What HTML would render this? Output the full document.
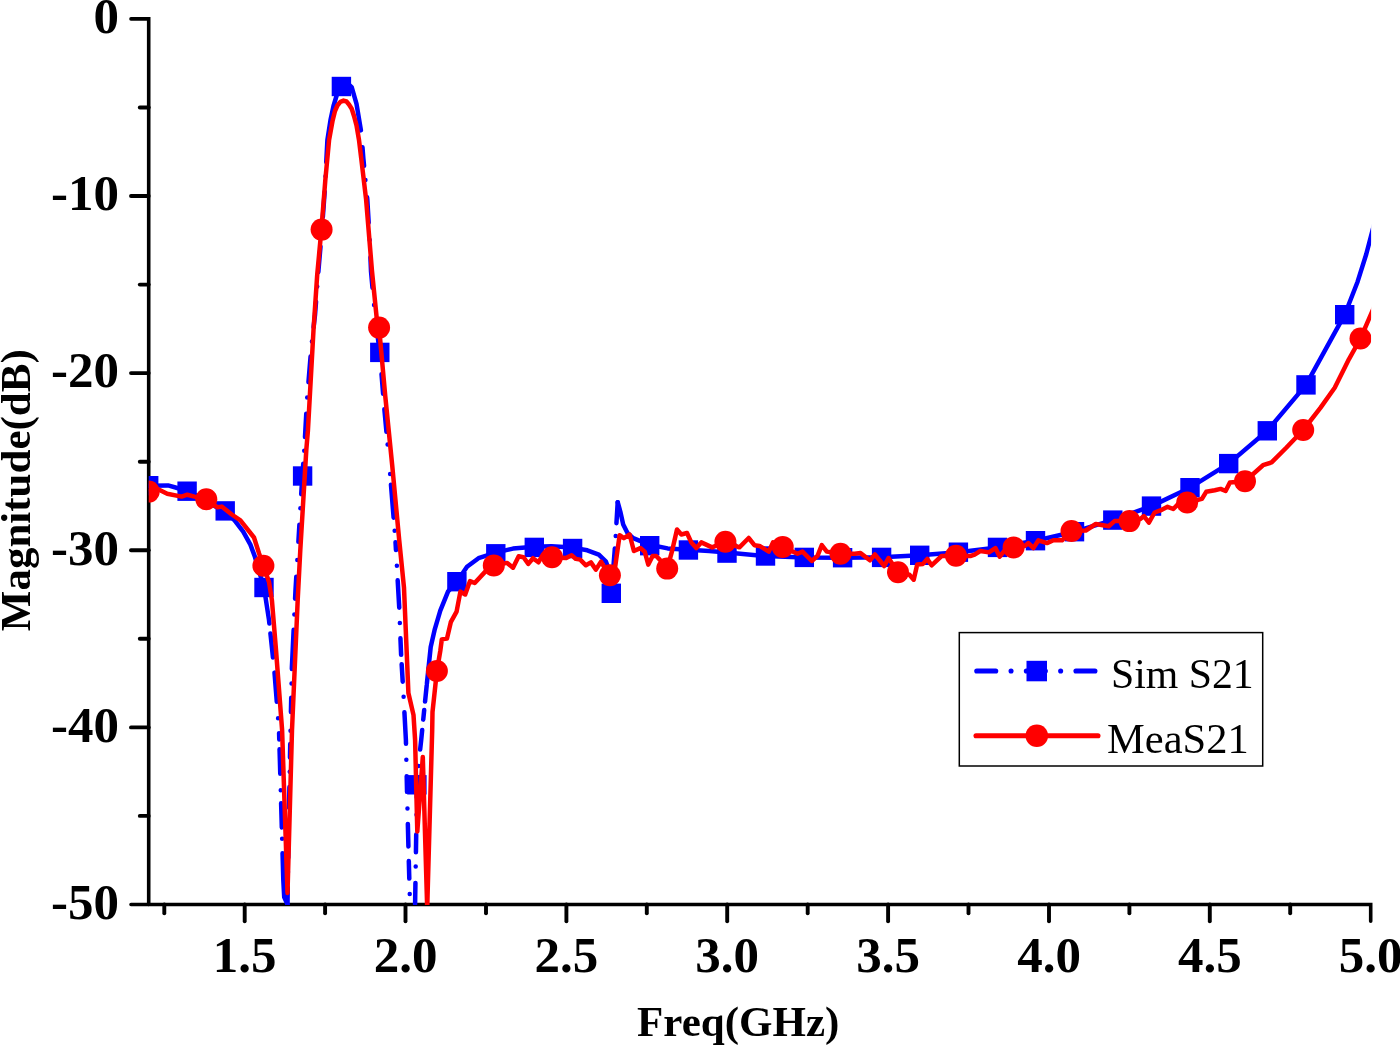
<!DOCTYPE html>
<html><head><meta charset="utf-8"><title>S21</title>
<style>html,body{margin:0;padding:0;background:#fff}svg{display:block}text{font-family:"Liberation Serif","Times New Roman",serif;fill:#000}.b{font-weight:bold}</style></head><body>
<svg width="1400" height="1046" viewBox="0 0 1400 1046">
<rect width="1400" height="1046" fill="#fff"/>
<defs><clipPath id="cp"><rect x="148.7" y="0" width="1222.4" height="905.0"/></clipPath></defs>
<g stroke="#000" stroke-width="3.6" fill="none" stroke-linecap="butt">
<path stroke-linecap="round" stroke-linejoin="miter" d="M131 18.9 H148.7 V904.5"/>
<path stroke-linecap="round" stroke-linejoin="miter" d="M131 904.5 H1370.7 V921.2"/>
<path stroke-width="3.9" stroke-linecap="round" d="M131 196.0 H148.7"/>
<path stroke-width="3.9" stroke-linecap="round" d="M131 373.1 H148.7"/>
<path stroke-width="3.9" stroke-linecap="round" d="M131 550.3 H148.7"/>
<path stroke-width="3.9" stroke-linecap="round" d="M131 727.4 H148.7"/>
<path stroke-width="3.9" stroke-linecap="round" d="M139.8 107.5 H148.7"/>
<path stroke-width="3.9" stroke-linecap="round" d="M139.8 284.6 H148.7"/>
<path stroke-width="3.9" stroke-linecap="round" d="M139.8 461.7 H148.7"/>
<path stroke-width="3.9" stroke-linecap="round" d="M139.8 638.8 H148.7"/>
<path stroke-width="3.9" stroke-linecap="round" d="M139.8 815.9 H148.7"/>
<path stroke-width="3.9" stroke-linecap="round" d="M244.7 904.5 V921.2"/>
<path stroke-width="3.9" stroke-linecap="round" d="M405.5 904.5 V921.2"/>
<path stroke-width="3.9" stroke-linecap="round" d="M566.4 904.5 V921.2"/>
<path stroke-width="3.9" stroke-linecap="round" d="M727.2 904.5 V921.2"/>
<path stroke-width="3.9" stroke-linecap="round" d="M888.1 904.5 V921.2"/>
<path stroke-width="3.9" stroke-linecap="round" d="M1049.0 904.5 V921.2"/>
<path stroke-width="3.9" stroke-linecap="round" d="M1209.8 904.5 V921.2"/>
<path stroke-width="3.9" stroke-linecap="round" d="M164.3 904.5 V913.2"/>
<path stroke-width="3.9" stroke-linecap="round" d="M325.1 904.5 V913.2"/>
<path stroke-width="3.9" stroke-linecap="round" d="M486.0 904.5 V913.2"/>
<path stroke-width="3.9" stroke-linecap="round" d="M646.8 904.5 V913.2"/>
<path stroke-width="3.9" stroke-linecap="round" d="M807.7 904.5 V913.2"/>
<path stroke-width="3.9" stroke-linecap="round" d="M968.5 904.5 V913.2"/>
<path stroke-width="3.9" stroke-linecap="round" d="M1129.4 904.5 V913.2"/>
<path stroke-width="3.9" stroke-linecap="round" d="M1290.2 904.5 V913.2"/>
</g>
<text class="b" x="119" y="33.2" font-size="51" text-anchor="end">0</text>
<text class="b" x="119" y="210.3" font-size="51" text-anchor="end">-10</text>
<text class="b" x="119" y="387.4" font-size="51" text-anchor="end">-20</text>
<text class="b" x="119" y="564.6" font-size="51" text-anchor="end">-30</text>
<text class="b" x="119" y="741.7" font-size="51" text-anchor="end">-40</text>
<text class="b" x="119" y="918.8" font-size="51" text-anchor="end">-50</text>
<text class="b" x="244.7" y="972.3" font-size="51" text-anchor="middle">1.5</text>
<text class="b" x="405.5" y="972.3" font-size="51" text-anchor="middle">2.0</text>
<text class="b" x="566.4" y="972.3" font-size="51" text-anchor="middle">2.5</text>
<text class="b" x="727.2" y="972.3" font-size="51" text-anchor="middle">3.0</text>
<text class="b" x="888.1" y="972.3" font-size="51" text-anchor="middle">3.5</text>
<text class="b" x="1049.0" y="972.3" font-size="51" text-anchor="middle">4.0</text>
<text class="b" x="1209.8" y="972.3" font-size="51" text-anchor="middle">4.5</text>
<text class="b" x="1370.7" y="972.3" font-size="51" text-anchor="middle">5.0</text>
<text class="b" x="738.2" y="1036" font-size="43" text-anchor="middle">Freq(GHz)</text>
<text class="b" transform="translate(29.9 490.2) rotate(-90)" font-size="43" text-anchor="middle">Magnitude(dB)</text>
<g clip-path="url(#cp)">
<path d="M148.7 485.7 L168.0 485.4 L177.3 488.0 L187.3 491.4 L197.0 495.9 L215.6 506.6 L226.0 511.6 L234.6 520.3 L243.2 531.7 L250.4 544.6 L254.7 556.1 L259.0 571.0 L264.0 587.5" fill="none" stroke="#0000ff" stroke-width="4.5" stroke-linecap="round" stroke-linejoin="round"/>
<path d="M264.0 587.5 L269.0 620.0 L274.3 670.0 L279.0 730.0 L281.6 820.0 L283.3 880.0 L284.2 897.0 L287.5 904.5" fill="none" stroke="#0000ff" stroke-width="4.5" stroke-linecap="round" stroke-linejoin="round" stroke-dasharray="36.5 10 24 15.3 29.2 16.5 0 15 6.4 9.8 24.3 16.5 0 13.2 24.2 11.2 0 14.6 60 100" stroke-dashoffset="0"/>
<path d="M287.5 904.0 L288.8 820.0 L290.3 740.0 L291.9 667.0 L295.5 590.0 L298.5 540.0 L302.3 476.0 L304.3 450.0 L307.0 400.0 L311.5 345.0 L315.0 315.0 L318.5 270.0 L322.0 229.0 L324.8 190.0 L327.4 140.0 L330.5 120.0 L333.5 106.0 L336.5 96.0 L339.0 89.0 L341.4 85.0" fill="none" stroke="#0000ff" stroke-width="4.5" stroke-linecap="round" stroke-linejoin="round" stroke-dasharray="16.8 15.3 0.0 14.3 20.5 15.3 0.0 14.3 20.5 15.3 0.0 14.3 13.5 13.3 0.0 18.6 14.2 14.3 0.0 14.6 39.2 15.3 0.0 15.8 22.0 16.9 0.0 18.1 17.1 16.5 0.0 14.1 30.6 12.9 0.0 13.7 23.5 16.3 0.0 15.3 25.6 15.3 0.0 14.3 25.6 15.3 0.0 14.3 25.6 15.3 0.0 14.3 25.6 15.3 0.0 14.3 77.6 1000.0" stroke-dashoffset="0"/>
<path d="M341.4 84.0 L347.0 83.0 L351.7 87.2 L356.5 103.9 L361.3 132.6 L363.4 158.9 L367.3 199.5 L369.7 240.0 L371.0 271.2 L375.3 319.0 L379.8 352.4 L384.0 405.0 L389.0 460.0 L395.4 540.0 L399.2 607.0 L401.1 654.7 L403.6 696.8 L405.9 740.0 L407.0 790.0 L408.5 850.0 L410.0 904.0" fill="none" stroke="#0000ff" stroke-width="4.5" stroke-linecap="round" stroke-linejoin="round" stroke-dasharray="56.2 16.9 18.6 14.3 0.0 17.3 25.6 17.3 0.0 17.3 30.6 17.3 0.0 17.3 33.8 18.5 19.6 15.5 22.6 12.9 0.0 29.5 0.0 10.8 33.1 13.0 0.0 11.6 7.9 15.7 0.0 14.5 27.5 15.3 0.0 15.3 16.5 9.5 17.5 15.1 0.0 15.5 31.5 16.1 0.0 16.5 15.5 16.7 0.0 15.4 22.6 14.5 17.6 15.4 0.0 1000.0" stroke-dashoffset="0"/>
<path d="M415.1 904.0 L417.0 784.8 L419.0 760.0 L421.2 740.0 L424.0 712.0 L426.9 683.4" fill="none" stroke="#0000ff" stroke-width="4.5" stroke-linecap="round" stroke-linejoin="round" stroke-dasharray="21.1 16.3 0.0 14.4 17.6 19.8 0.0 17.3 20.5 11.0 0.0 16.6 19.6 10.5 9.6 8.5 16.2 1000.0" stroke-dashoffset="0"/>
<path d="M426.9 683.4 L430.7 647.0 L434.6 629.9 L440.3 610.7 L448.0 591.6 L456.9 581.7 L467.0 566.8 L478.5 558.2 L495.8 552.6 L513.0 548.6 L534.3 546.7 L551.5 546.2 L572.6 547.6 L587.3 550.3 L598.8 554.6 L606.0 561.7 L609.6 571.8 L611.3 593.3" fill="none" stroke="#0000ff" stroke-width="4.5" stroke-linecap="round" stroke-linejoin="round"/>
<path d="M611.3 593.3 L614.6 551.7 L615.7 535.9 L617.7 502.2" fill="none" stroke="#0000ff" stroke-width="4.5" stroke-linecap="round" stroke-linejoin="round" stroke-dasharray="45 12.5 0 12.8 30 100" stroke-dashoffset="0"/>
<path d="M617.7 502.2 L620.3 511.5 L623.2 524.4 L627.5 533.0 L633.2 538.1 L641.8 541.6 L649.7 544.7 L667.6 548.4 L688.4 549.7 L709.2 551.0 L727.0 552.6 L765.5 556.1 L804.3 557.6 L842.6 557.7 L881.6 557.2 L919.7 555.2 L958.4 552.2 L997.5 547.4 L1035.5 540.7 L1074.5 531.7 L1112.8 520.1 L1151.5 506.1 L1190.0 487.7 L1228.7 463.6 L1267.3 430.8 L1306.0 384.9 L1344.7 314.7 L1357.6 281.7 L1366.3 254.0 L1375.0 221.0" fill="none" stroke="#0000ff" stroke-width="4.5" stroke-linecap="round" stroke-linejoin="round"/>
<rect x="139.0" y="476.0" width="19.4" height="19.4" fill="#0000ff"/>
<rect x="177.4" y="481.5" width="19.4" height="19.4" fill="#0000ff"/>
<rect x="215.5" y="501.2" width="19.4" height="19.4" fill="#0000ff"/>
<rect x="254.3" y="577.8" width="19.4" height="19.4" fill="#0000ff"/>
<rect x="292.9" y="466.3" width="19.4" height="19.4" fill="#0000ff"/>
<rect x="331.7" y="76.8" width="19.4" height="19.4" fill="#0000ff"/>
<rect x="370.1" y="342.7" width="19.4" height="19.4" fill="#0000ff"/>
<rect x="407.2" y="775.1" width="19.4" height="19.4" fill="#0000ff"/>
<rect x="447.2" y="572.0" width="19.4" height="19.4" fill="#0000ff"/>
<rect x="486.1" y="544.1" width="19.4" height="19.4" fill="#0000ff"/>
<rect x="524.6" y="537.7" width="19.4" height="19.4" fill="#0000ff"/>
<rect x="562.9" y="538.8" width="19.4" height="19.4" fill="#0000ff"/>
<rect x="601.6" y="583.6" width="19.4" height="19.4" fill="#0000ff"/>
<rect x="640.0" y="536.0" width="19.4" height="19.4" fill="#0000ff"/>
<rect x="678.7" y="540.3" width="19.4" height="19.4" fill="#0000ff"/>
<rect x="717.3" y="543.4" width="19.4" height="19.4" fill="#0000ff"/>
<rect x="755.8" y="546.3" width="19.4" height="19.4" fill="#0000ff"/>
<rect x="794.6" y="547.7" width="19.4" height="19.4" fill="#0000ff"/>
<rect x="832.9" y="548.0" width="19.4" height="19.4" fill="#0000ff"/>
<rect x="871.9" y="547.7" width="19.4" height="19.4" fill="#0000ff"/>
<rect x="910.0" y="545.6" width="19.4" height="19.4" fill="#0000ff"/>
<rect x="948.7" y="542.5" width="19.4" height="19.4" fill="#0000ff"/>
<rect x="987.8" y="537.7" width="19.4" height="19.4" fill="#0000ff"/>
<rect x="1025.8" y="531.0" width="19.4" height="19.4" fill="#0000ff"/>
<rect x="1064.8" y="522.0" width="19.4" height="19.4" fill="#0000ff"/>
<rect x="1103.1" y="510.4" width="19.4" height="19.4" fill="#0000ff"/>
<rect x="1141.8" y="496.4" width="19.4" height="19.4" fill="#0000ff"/>
<rect x="1180.3" y="478.0" width="19.4" height="19.4" fill="#0000ff"/>
<rect x="1219.0" y="453.9" width="19.4" height="19.4" fill="#0000ff"/>
<rect x="1257.6" y="421.1" width="19.4" height="19.4" fill="#0000ff"/>
<rect x="1296.3" y="375.2" width="19.4" height="19.4" fill="#0000ff"/>
<rect x="1335.0" y="305.0" width="19.4" height="19.4" fill="#0000ff"/>
<path d="M148.7 491.6 L158.6 489.4 L167.2 493.7 L181.6 496.6 L187.3 494.7 L194.5 496.6 L206.3 499.3 L217.4 507.3 L221.7 506.6 L231.8 514.5 L240.4 520.3 L254.0 537.5 L259.0 553.2 L263.4 565.7 L269.0 581.9 L271.9 600.0 L276.0 650.0 L282.1 730.0 L287.5 893.0 L292.0 730.0 L297.7 600.0 L300.3 550.0 L306.3 450.0 L307.9 430.9 L313.5 330.0 L317.2 275.0 L321.4 229.6 L325.3 180.4 L329.1 139.8 L332.6 120.6 L335.0 111.0 L337.4 105.5 L340.4 101.8 L343.5 100.6 L346.5 101.5 L349.0 104.5 L351.7 108.7 L354.0 116.0 L356.5 125.4 L359.0 140.0 L361.3 158.9 L366.1 199.5 L372.0 271.2 L376.8 319.0 L379.1 327.6 L385.3 396.5 L392.2 465.3 L399.2 540.0 L404.0 587.8 L406.8 654.7 L408.4 693.0 L413.5 715.0 L415.1 740.0 L417.3 831.5 L422.8 757.0 L427.2 908.0 L432.2 730.0 L432.5 712.0 L436.9 671.0 L440.3 650.9 L441.8 639.4 L447.0 638.5 L450.8 622.2 L456.6 611.7 L460.4 591.6 L465.2 594.5 L470.0 581.1 L474.7 583.0 L486.2 570.6 L493.8 565.4 L507.2 562.9 L513.0 567.7 L518.7 556.3 L523.5 557.2 L528.3 563.9 L533.0 558.2 L538.4 562.3 L542.9 554.6 L552.0 557.3 L565.8 558.1 L571.6 555.3 L575.9 558.9 L580.2 559.6 L585.9 565.3 L590.9 562.4 L595.9 569.6 L601.0 561.7 L604.6 567.5 L609.9 575.3 L615.3 566.0 L619.6 535.2 L623.9 538.1 L629.6 534.5 L633.9 551.0 L640.4 548.1 L644.7 551.7 L648.3 564.6 L652.6 556.0 L656.2 556.0 L659.7 559.6 L667.2 568.6 L671.9 551.7 L677.0 529.5 L681.3 534.5 L687.0 533.0 L691.3 542.4 L696.3 548.1 L701.3 542.4 L712.1 547.4 L725.4 541.8 L739.4 547.3 L748.7 538.0 L754.4 545.2 L759.5 545.9 L768.8 551.6 L773.1 542.3 L782.7 546.9 L797.5 553.8 L802.5 551.6 L811.8 561.0 L817.5 555.9 L821.8 545.2 L826.8 551.6 L840.5 553.8 L854.8 553.8 L860.5 553.1 L869.9 560.3 L874.9 554.5 L884.2 566.0 L888.5 558.1 L898.0 572.2 L909.4 574.7 L913.7 579.7 L917.2 564.6 L923.0 563.9 L927.3 558.9 L931.6 565.3 L941.6 556.0 L956.0 555.7 L970.3 556.0 L974.6 554.6 L980.3 551.0 L988.9 552.4 L995.4 548.1 L999.7 556.7 L1004.7 550.3 L1013.6 547.4 L1024.8 546.0 L1028.4 543.1 L1033.4 548.1 L1038.4 540.3 L1047.0 543.1 L1053.4 540.3 L1062.0 540.3 L1071.5 531.0 L1085.8 530.5 L1095.8 524.0 L1108.7 526.2 L1114.5 521.1 L1129.5 521.1 L1140.3 519.0 L1143.9 516.1 L1148.9 522.6 L1154.6 512.5 L1160.4 510.4 L1167.5 506.8 L1173.3 509.0 L1179.0 503.2 L1187.2 502.5 L1201.9 498.9 L1206.2 491.8 L1214.8 490.3 L1220.6 488.9 L1225.6 491.0 L1229.9 482.4 L1245.0 481.2 L1263.0 465.2 L1271.6 462.4 L1286.0 448.0 L1303.2 430.0 L1320.4 407.9 L1334.7 387.8 L1349.0 359.1 L1360.5 338.5 L1375.0 305.0" fill="none" stroke="#ff0000" stroke-width="4.5" stroke-linejoin="round"/>
<circle cx="148.7" cy="491.6" r="11" fill="#ff0000"/>
<circle cx="206.3" cy="499.3" r="11" fill="#ff0000"/>
<circle cx="263.4" cy="565.7" r="11" fill="#ff0000"/>
<circle cx="321.6" cy="229.6" r="11" fill="#ff0000"/>
<circle cx="379.1" cy="327.6" r="11" fill="#ff0000"/>
<circle cx="436.9" cy="671.0" r="11" fill="#ff0000"/>
<circle cx="493.8" cy="565.4" r="11" fill="#ff0000"/>
<circle cx="552.0" cy="557.3" r="11" fill="#ff0000"/>
<circle cx="609.9" cy="575.3" r="11" fill="#ff0000"/>
<circle cx="667.2" cy="568.6" r="11" fill="#ff0000"/>
<circle cx="725.4" cy="541.8" r="11" fill="#ff0000"/>
<circle cx="782.7" cy="546.9" r="11" fill="#ff0000"/>
<circle cx="840.5" cy="553.8" r="11" fill="#ff0000"/>
<circle cx="898.0" cy="572.2" r="11" fill="#ff0000"/>
<circle cx="956.0" cy="555.7" r="11" fill="#ff0000"/>
<circle cx="1013.6" cy="547.4" r="11" fill="#ff0000"/>
<circle cx="1071.5" cy="531.0" r="11" fill="#ff0000"/>
<circle cx="1129.5" cy="521.1" r="11" fill="#ff0000"/>
<circle cx="1187.2" cy="502.5" r="11" fill="#ff0000"/>
<circle cx="1245.0" cy="481.2" r="11" fill="#ff0000"/>
<circle cx="1303.2" cy="430.0" r="11" fill="#ff0000"/>
<circle cx="1360.5" cy="338.5" r="11" fill="#ff0000"/>
</g>
<rect x="959.3" y="632.6" width="303.4" height="133.4" fill="#fff" stroke="#000" stroke-width="1.5"/>
<path d="M976.75 671 H1097" stroke="#0000ff" stroke-width="5.1" stroke-linecap="round" stroke-dasharray="19 15.3 0 15.3" fill="none"/>
<rect x="1026.5" y="660.8" width="20.5" height="20.5" fill="#0000ff"/>
<path d="M976 735.8 H1098" stroke="#ff0000" stroke-width="5.1" stroke-linecap="round" fill="none"/>
<circle cx="1036.8" cy="735.8" r="11.3" fill="#ff0000"/>
<text x="1110.9" y="688.3" font-size="41.8">Sim S21</text>
<text x="1107" y="753.4" font-size="42.5">MeaS21</text>
</svg></body></html>
